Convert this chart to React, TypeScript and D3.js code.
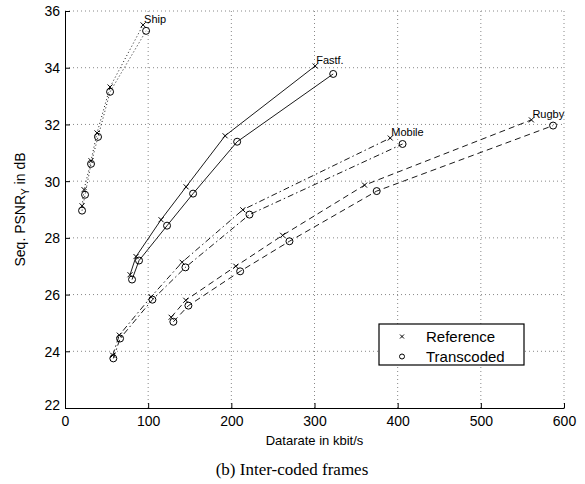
import React, { useRef, useEffect } from "react";
import * as d3 from "d3";

// sequence names and their line style
const sequences = ["Ship", "Fastf.", "Mobile", "Rugby"];
const dashes = ["1,2.5", null, "6,3,1.5,3", "6,4"];

// datarate (kbit/s) and PSNR (dB), reference coded
const refRate = [
  [20.5, 22.9, 31.3, 38.5, 54.2, 93.9],
  [78.2, 85.4, 115.5, 145.6, 192.5, 300.8],
  [57.4, 65.3, 103.5, 140.8, 213.8, 391.1],
  [127.6, 145.2, 205.4, 261.7, 360.2, 560.8],
];
const refPsnr = [
  [29.13, 29.7, 30.72, 31.7, 33.32, 35.51],
  [26.7, 27.34, 28.64, 29.8, 31.6, 34.06],
  [23.86, 24.57, 25.92, 27.14, 28.99, 31.52],
  [25.2, 25.8, 27.0, 28.09, 29.86, 32.16],
];

// transcoded
const trRate = [
  [20.5, 24.1, 31.3, 39.7, 54.2, 97.5],
  [80.6, 89.0, 122.7, 154.0, 207.0, 322.5],
  [58.1, 66.2, 105.1, 144.8, 221.8, 405.9],
  [130.3, 148.4, 210.6, 269.9, 374.8, 586.9],
];
const trPsnr = [
  [28.96, 29.52, 30.61, 31.56, 33.15, 35.3],
  [26.53, 27.2, 28.43, 29.56, 31.39, 33.78],
  [23.75, 24.45, 25.82, 26.96, 28.82, 31.31],
  [25.04, 25.61, 26.82, 27.88, 29.65, 31.96],
];

const xTicks = [0, 100, 200, 300, 400, 500, 600];
const yTicks = [22, 24, 26, 28, 30, 32, 34, 36];
const legendLabels = ["Reference", "Transcoded"];

const App = () => {
  const ref = useRef(null);
  const width = 585;
  const height = 484;
  const margin = { top: 11, right: 21, bottom: 76, left: 65 };

  useEffect(() => {
    d3.select(ref.current).selectAll("*").remove();
    const svg = d3.select(ref.current);
    const w = width - margin.left - margin.right;
    const h = height - margin.top - margin.bottom;
    const font = "'Liberation Sans', Arial, Helvetica, sans-serif";

    const x = d3.scaleLinear().domain([0, 600]).range([0, w]);
    const y = d3.scaleLinear().domain([22, 36]).range([h, 0]);

    const g = svg
      .append("g")
      .attr("transform", `translate(${margin.left},${margin.top})`);

    // grid
    g.selectAll(".gx")
      .data(xTicks.slice(1))
      .enter()
      .append("line")
      .attr("x1", (d) => x(d))
      .attr("x2", (d) => x(d))
      .attr("y1", 0)
      .attr("y2", h)
      .attr("stroke", "#888")
      .attr("stroke-width", 1)
      .attr("stroke-dasharray", "1,3");
    g.selectAll(".gy")
      .data(yTicks.slice(1))
      .enter()
      .append("line")
      .attr("x1", 0)
      .attr("x2", w)
      .attr("y1", (d) => y(d))
      .attr("y2", (d) => y(d))
      .attr("stroke", "#888")
      .attr("stroke-width", 1)
      .attr("stroke-dasharray", "1,3");

    // axes with inward ticks
    const xAxis = d3.axisBottom(x).tickValues(xTicks).tickSizeInner(-5).tickSizeOuter(0).tickPadding(8);
    const yAxis = d3.axisLeft(y).tickValues(yTicks).tickSizeInner(-5).tickSizeOuter(0).tickPadding(5);
    const gx = g.append("g").attr("transform", `translate(0,${h})`).call(xAxis);
    const gy = g.append("g").call(yAxis);
    [gx, gy].forEach((a) => {
      a.selectAll("text").attr("font-family", font).attr("font-size", 14).attr("fill", "#000");
      a.selectAll("line, path").attr("stroke", "#000");
    });
    gy.selectAll("text").attr("dy", "0.35em");
    gy.selectAll(".tick").filter((d) => d === 22).select("text").attr("dy", "0.1em");

    // series
    const line = d3.line().x((d) => x(d[0])).y((d) => y(d[1]));
    sequences.forEach((name, i) => {
      const refPts = refRate[i].map((r, j) => [r, refPsnr[i][j]]);
      const trPts = trRate[i].map((r, j) => [r, trPsnr[i][j]]);
      [refPts, trPts].forEach((pts) => {
        g.append("path")
          .datum(pts)
          .attr("d", line)
          .attr("fill", "none")
          .attr("stroke", "#000")
          .attr("stroke-width", 0.9)
          .attr("stroke-dasharray", dashes[i]);
      });
      refPts.forEach((p) => {
        const cx = x(p[0]);
        const cy = y(p[1]);
        g.append("path")
          .attr("d", `M${cx - 2.5},${cy - 2.5}L${cx + 2.5},${cy + 2.5}M${cx - 2.5},${cy + 2.5}L${cx + 2.5},${cy - 2.5}`)
          .attr("stroke", "#000")
          .attr("stroke-width", 1);
      });
      trPts.forEach((p) => {
        g.append("circle")
          .attr("cx", x(p[0]))
          .attr("cy", y(p[1]))
          .attr("r", 3.5)
          .attr("fill", "none")
          .attr("stroke", "#000")
          .attr("stroke-width", 1);
      });
      const last = refPts[refPts.length - 1];
      g.append("text")
        .attr("x", x(last[0]) + 1)
        .attr("y", y(last[1]) - 2)
        .attr("font-family", font)
        .attr("font-size", 11)
        .text(name);
    });

    // legend
    const lx = 314;
    const ly = 313;
    const lg = g.append("g").attr("transform", `translate(${lx},${ly})`);
    lg.append("rect")
      .attr("width", 145)
      .attr("height", 41)
      .attr("fill", "#fff")
      .attr("stroke", "#000")
      .attr("stroke-width", 1.2);
    legendLabels.forEach((lab, i) => {
      const yy = 12.5 + i * 20;
      if (i === 0) {
        lg.append("path")
          .attr("d", `M21,${yy - 2}L25,${yy + 2}M21,${yy + 2}L25,${yy - 2}`)
          .attr("stroke", "#000");
      } else {
        lg.append("circle").attr("cx", 23).attr("cy", yy).attr("r", 2.5).attr("fill", "none").attr("stroke", "#000");
      }
      lg.append("text")
        .attr("x", 47)
        .attr("y", yy + 5)
        .attr("font-family", font)
        .attr("font-size", 15)
        .text(lab);
    });

    // axis labels
    svg.append("text")
      .attr("x", margin.left + w / 2)
      .attr("y", 445)
      .attr("text-anchor", "middle")
      .attr("font-family", font)
      .attr("font-size", 13)
      .text("Datarate in kbit/s");

    const yl = svg.append("text")
      .attr("transform", `translate(25,${margin.top + h / 2}) rotate(-90)`)
      .attr("text-anchor", "middle")
      .attr("font-family", font)
      .attr("font-size", 14);
    yl.append("tspan").text("Seq. PSNR");
    yl.append("tspan").attr("font-size", 10).attr("dy", 4).text("Y");
    yl.append("tspan").attr("dy", -4).text(" in dB");

    svg.append("text")
      .attr("x", 292)
      .attr("y", 475)
      .attr("text-anchor", "middle")
      .attr("font-family", "'Liberation Serif', 'Times New Roman', serif")
      .attr("font-size", 17)
      .text("(b) Inter-coded frames");
  }, []);

  return (
    <svg
      ref={ref}
      width={width}
      height={height}
      style={{ position: "absolute", left: 0, top: 0, background: "#fff" }}
    />
  );
};

export default App;
